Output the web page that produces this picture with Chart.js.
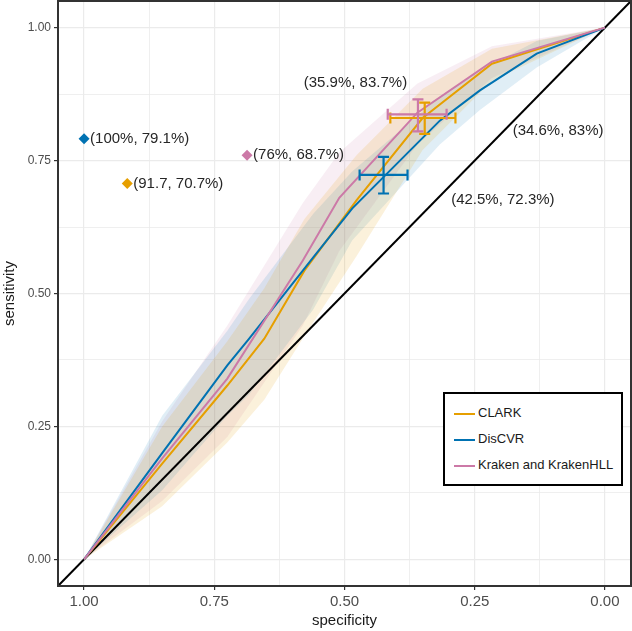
<!DOCTYPE html>
<html>
<head>
<meta charset="utf-8">
<script src="https://cdn.jsdelivr.net/npm/chart.js@4.4.0/dist/chart.umd.min.js"></script>
<style>
  html, body { margin: 0; padding: 0; background: #fff; }
  #wrap { position: relative; width: 632px; height: 631px; }
  #legend {
    position: absolute; left: 443px; top: 392px; width: 176px; height: 90px;
    border: 2px solid #000; background: #fff;
    font-family: "Liberation Sans", Arial, sans-serif; font-size: 13px; color: #1a1a1a;
  }
  #legend .row { position: absolute; left: 9px; height: 16px; line-height: 16px; white-space: nowrap; }
  #legend .key { display: inline-block; width: 21px; height: 2px; vertical-align: middle; margin-right: 3px; }
</style>
</head>
<body>
<div id="wrap">
  <canvas id="roc" width="632" height="631"></canvas>
  <div id="legend"></div>
</div>
<script>
// ---- data (specificity on x, sensitivity on y) ----
const seriesNames = ['CLARK', 'DisCVR', 'Kraken and KrakenHLL'];
const seriesColors = ['#E69F00', '#0072B2', '#CC79A7'];
const bandColors = ['rgba(230,159,0,0.14)', 'rgba(0,114,178,0.12)', 'rgba(204,121,167,0.13)'];

const clarkSpec  = [1, 0.85, 0.725, 0.654, 0.577, 0.477, 0.35, 0.217, 0];
const clarkSens  = [0, 0.18, 0.327, 0.415, 0.543, 0.675, 0.83, 0.932, 1];
const clarkLower = [0, 0.10, 0.22, 0.30, 0.42, 0.57, 0.77, 0.90, 1];
const clarkUpper = [0, 0.25, 0.41, 0.51, 0.64, 0.76, 0.885, 0.96, 1];

const discvrSpec  = [1, 0.85, 0.725, 0.683, 0.56, 0.485, 0.317, 0.24, 0.131, 0];
const discvrSens  = [0, 0.20, 0.365, 0.415, 0.568, 0.66, 0.825, 0.882, 0.951, 1];
const discvrLower = [0, 0.13, 0.27, 0.31, 0.47, 0.60, 0.78, 0.845, 0.925, 1];
const discvrUpper = [0, 0.27, 0.43, 0.49, 0.65, 0.73, 0.87, 0.92, 0.975, 1];

const krakenSpec  = [1, 0.85, 0.725, 0.58, 0.51, 0.36, 0.217, 0];
const krakenSens  = [0, 0.19, 0.34, 0.562, 0.68, 0.84, 0.936, 1];
const krakenLower = [0, 0.11, 0.23, 0.44, 0.58, 0.78, 0.905, 1];
const krakenUpper = [0, 0.26, 0.44, 0.67, 0.765, 0.895, 0.965, 1];

// single operating points (diamonds)
const pointSpec   = [0.917, 1.0, 0.687];
const pointSens   = [0.707, 0.791, 0.76];
const pointLabels = ['(91.7, 70.7%)', '(100%, 79.1%)', '(76%, 68.7%)'];

// mean point with confidence intervals (crosshairs)
const ciSpec   = [0.346, 0.425, 0.359];
const ciSpecLo = [0.287, 0.379, 0.304];
const ciSpecHi = [0.412, 0.471, 0.417];
const ciSens   = [0.83, 0.723, 0.837];
const ciSensLo = [0.80, 0.688, 0.805];
const ciSensHi = [0.859, 0.757, 0.865];
const ciLabels    = ['(34.6%, 83%)', '(42.5%, 72.3%)', '(35.9%, 83.7%)'];
const ciLabelSpec = [0.09, 0.196, 0.479];
const ciLabelSens = [0.805, 0.677, 0.897];

const gridVals = [0, 0.125, 0.25, 0.375, 0.5, 0.625, 0.75, 0.875, 1];

const FONT = '"Liberation Sans", Arial, sans-serif';
const series = [
  { spec: clarkSpec, sens: clarkSens, lower: clarkLower, upper: clarkUpper },
  { spec: discvrSpec, sens: discvrSens, lower: discvrLower, upper: discvrUpper },
  { spec: krakenSpec, sens: krakenSens, lower: krakenLower, upper: krakenUpper }
];

function pts(xs, ys) { return xs.map((x, i) => ({ x: x, y: ys[i] })); }
function isMajor(v) { return Math.abs(v * 4 - Math.round(v * 4)) < 1e-9; }

// ---- datasets ----
const datasets = [];
series.forEach((s, i) => {
  datasets.push({ data: pts(s.spec, s.lower), showLine: true, borderWidth: 0, pointRadius: 0, fill: false, order: 30 });
  datasets.push({ data: pts(s.spec, s.upper), showLine: true, borderWidth: 0, pointRadius: 0,
    fill: '-1', backgroundColor: bandColors[i], order: 30 });
});
// chance line, corner to corner
datasets.push({ data: [{ x: 1.05, y: -0.05 }, { x: -0.05, y: 1.05 }], showLine: true,
  borderColor: '#000', borderWidth: 2, pointRadius: 0, order: 20 });
series.forEach((s, i) => {
  datasets.push({ data: pts(s.spec, s.sens), showLine: true, borderColor: seriesColors[i],
    borderWidth: 2, pointRadius: 0, order: 10 - i });
});
datasets.push({ data: pts(pointSpec, pointSens), showLine: false, pointStyle: 'rectRot', pointRadius: 5.5,
  backgroundColor: seriesColors, borderColor: seriesColors, borderWidth: 0, order: 1 });

// error bars, labels and panel border
const overlay = {
  id: 'overlay',
  afterDatasetsDraw(chart) {
    const ctx = chart.ctx, xs = chart.scales.x, ys = chart.scales.y;
    ctx.save();
    for (let i = 0; i < ciSpec.length; i++) {
      const cx = xs.getPixelForValue(ciSpec[i]), cy = ys.getPixelForValue(ciSens[i]);
      const xl = xs.getPixelForValue(ciSpecLo[i]), xh = xs.getPixelForValue(ciSpecHi[i]);
      const yl = ys.getPixelForValue(ciSensLo[i]), yh = ys.getPixelForValue(ciSensHi[i]);
      const cap = 5.5;
      ctx.strokeStyle = seriesColors[i];
      ctx.lineWidth = 2.2;
      ctx.beginPath();
      ctx.moveTo(xl, cy); ctx.lineTo(xh, cy);
      ctx.moveTo(xl, cy - cap); ctx.lineTo(xl, cy + cap);
      ctx.moveTo(xh, cy - cap); ctx.lineTo(xh, cy + cap);
      ctx.moveTo(cx, yl); ctx.lineTo(cx, yh);
      ctx.moveTo(cx - cap, yl); ctx.lineTo(cx + cap, yl);
      ctx.moveTo(cx - cap, yh); ctx.lineTo(cx + cap, yh);
      ctx.stroke();
    }
    ctx.fillStyle = '#262626';
    ctx.font = '15px ' + FONT;
    ctx.textBaseline = 'middle';
    ctx.textAlign = 'center';
    ciLabels.forEach((t, i) => {
      ctx.fillText(t, xs.getPixelForValue(ciLabelSpec[i]), ys.getPixelForValue(ciLabelSens[i]));
    });
    ctx.textAlign = 'left';
    pointLabels.forEach((t, i) => {
      ctx.fillText(t, xs.getPixelForValue(pointSpec[i]) + 6, ys.getPixelForValue(pointSens[i]));
    });
    const a = chart.chartArea;
    ctx.strokeStyle = '#333';
    ctx.lineWidth = 2;
    ctx.strokeRect(a.left, a.top, a.right - a.left, a.bottom - a.top);
    ctx.restore();
  }
};

const gridOpts = {
  color: '#ebebeb',
  lineWidth: c => (c.tick && isMajor(c.tick.value)) ? 1.2 : 0.8,
  tickLength: 4,
  tickWidth: 1.2,
  tickColor: c => (c.tick && isMajor(c.tick.value)) ? '#333' : 'rgba(0,0,0,0)'
};

new Chart(document.getElementById('roc'), {
  type: 'scatter',
  data: { datasets },
  plugins: [overlay],
  options: {
    responsive: false,
    animation: false,
    layout: { autoPadding: false, padding: { top: 1, right: 1, left: 0, bottom: 0 } },
    plugins: { legend: { display: false }, tooltip: { enabled: false } },
    scales: {
      x: {
        type: 'linear', reverse: true, min: -0.05, max: 1.05,
        afterBuildTicks: a => { a.ticks = gridVals.map(v => ({ value: v })); },
        afterFit: a => { a.height = 45; a.paddingLeft = 0; a.paddingRight = 0; },
        ticks: { autoSkip: false, maxRotation: 0, padding: 3, color: '#4d4d4d',
          font: { family: FONT, size: 15 },
          callback: v => isMajor(v) ? v.toFixed(2) : '' },
        grid: gridOpts,
        border: { display: false },
        title: { display: true, text: 'specificity', color: '#1a1a1a',
          font: { family: FONT, size: 15 }, padding: { top: 0, bottom: 1 } }
      },
      y: {
        type: 'linear', min: -0.05, max: 1.05,
        afterBuildTicks: a => { a.ticks = gridVals.map(v => ({ value: v })); },
        afterFit: a => { a.width = 58; a.paddingTop = 0; a.paddingBottom = 0; },
        ticks: { autoSkip: false, padding: 3, color: '#4d4d4d',
          font: { family: FONT, size: 12 },
          callback: v => isMajor(v) ? v.toFixed(2) : '' },
        grid: gridOpts,
        border: { display: false },
        title: { display: true, text: 'sensitivity', color: '#1a1a1a',
          font: { family: FONT, size: 15 }, padding: { top: 1, bottom: 0 } }
      }
    }
  }
});

// legend box
const legend = document.getElementById('legend');
seriesNames.forEach((name, i) => {
  const row = document.createElement('div');
  row.className = 'row';
  row.style.top = (11 + i * 26) + 'px';
  row.innerHTML = '<span class="key" style="background:' + seriesColors[i] + '"></span>' + name;
  legend.appendChild(row);
});
</script>
</body>
</html>
